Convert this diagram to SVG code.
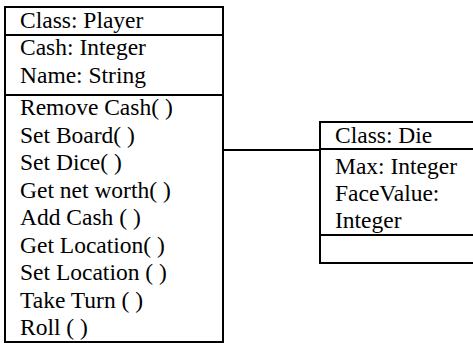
<svg xmlns="http://www.w3.org/2000/svg" width="473" height="343" viewBox="0 0 473 343">
<style>
.box{fill:#fff;stroke:#000;stroke-width:2}
.ln{stroke:#000;stroke-width:2;fill:none}
.t{font-family:'Liberation Serif','Times New Roman',Times,serif;font-size:23.5px;fill:#000}
</style>
<rect width="473" height="343" fill="#fff"/>
<g id="connectors">
<line class="ln" x1="223" y1="150" x2="320" y2="150"/>
</g>
<g id="player">
<rect class="box" x="5" y="7" width="218" height="335"/>
<line class="ln" x1="5" y1="35" x2="223" y2="35"/>
<line class="ln" x1="5" y1="95" x2="223" y2="95"/>
<g class="t">
<text x="20" y="28">Class: Player</text>
<text x="20" y="55">Cash: Integer</text>
<text x="20" y="83">Name: String</text>
<text x="20" y="115">Remove Cash( )</text>
<text x="20" y="142.5">Set Board( )</text>
<text x="20" y="170">Set Dice( )</text>
<text x="20" y="197.5">Get net worth( )</text>
<text x="20" y="225">Add Cash ( )</text>
<text x="20" y="252.5">Get Location( )</text>
<text x="20" y="280">Set Location ( )</text>
<text x="20" y="307.5">Take Turn ( )</text>
<text x="20" y="335">Roll ( )</text>
</g>
</g>
<g id="die">
<rect class="box" x="320" y="122" width="170" height="141"/>
<line class="ln" x1="320" y1="149" x2="490" y2="149"/>
<line class="ln" x1="320" y1="235" x2="490" y2="235"/>
<g class="t">
<text x="335" y="143">Class: Die</text>
<text x="335" y="174">Max: Integer</text>
<text x="335" y="201">FaceValue:</text>
<text x="335" y="228">Integer</text>
</g>
</g>
</svg>
